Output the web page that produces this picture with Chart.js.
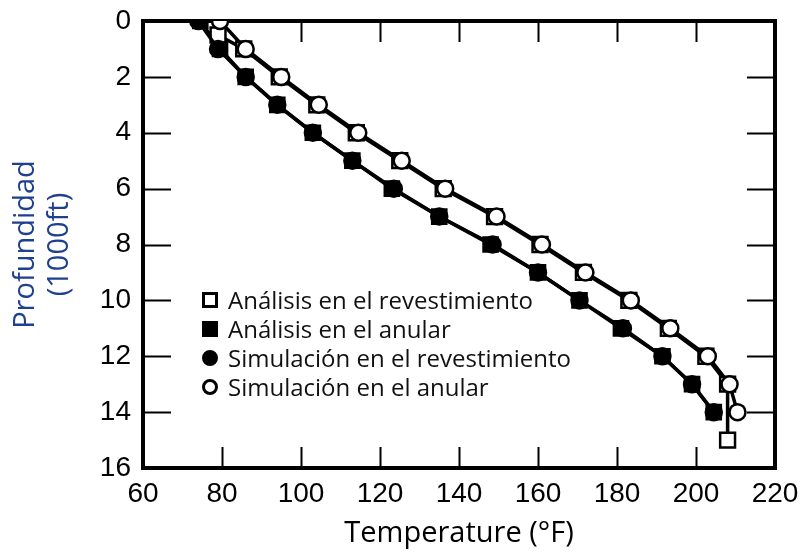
<!DOCTYPE html>
<html><head><meta charset="utf-8">
<script src="https://cdn.jsdelivr.net/npm/chart.js@4/dist/chart.umd.min.js"></script>
<style>
html,body{margin:0;padding:0;background:#fff;}
#wrap{position:relative;width:808px;height:553px;}
#legend{position:absolute;left:202px;top:285px;font-family:'Open Sans',sans-serif;font-size:24px;color:#111;line-height:29px;}
.row{display:flex;align-items:center;height:29px;white-space:nowrap;}
.mk{box-sizing:border-box;width:16px;height:16px;margin-right:10px;border:3px solid #000;background:#fff;}
.fill{background:#000;}
.circ{border-radius:50%;}
</style>
</head><body>
<div id="wrap">
<canvas id="c" width="808" height="553"></canvas>
<div id="legend">
 <div class="row"><span class="mk"></span>Análisis en el revestimiento</div>
 <div class="row"><span class="mk fill"></span>Análisis en el anular</div>
 <div class="row"><span class="mk fill circ"></span>Simulación en el revestimiento</div>
 <div class="row"><span class="mk circ"></span>Simulación en el anular</div>
</div>
</div>
<script>
// Depth (1000 ft) and temperature (°F)
const depthAnalisisRev = [0.5, 1, 2, 3, 4, 5, 6, 7, 8, 9, 10, 11, 12, 13, 15];
const tempAnalisisRev  = [79, 85.5, 94.5, 104, 114, 125, 136, 149, 160.5, 171.5, 183, 193, 202.5, 208, 208];

const depthAnalisisAn  = [0, 1, 2, 3, 4, 5, 6, 7, 8, 9, 10, 11, 12, 13, 14];
const tempAnalisisAn   = [74.5, 79.5, 86, 94, 103, 113, 123, 135, 148, 160, 170.5, 181, 191.5, 199, 204.5];

const depthSimRev      = [0, 1, 2, 3, 4, 5, 6, 7, 8, 9, 10, 11, 12, 13, 14];
const tempSimRev       = [74, 79, 86, 94, 103, 113, 123.5, 135, 148.5, 160, 170.5, 181.5, 191.5, 199, 204.5];

const depthSimAn       = [0, 1, 2, 3, 4, 5, 6, 7, 8, 9, 10, 11, 12, 13, 14];
const tempSimAn        = [79.5, 86, 95, 104.5, 114.5, 125.5, 136.5, 149.5, 161, 172, 183.5, 193.5, 203, 208.5, 210.5];

const xTicks = [60, 80, 100, 120, 140, 160, 180, 200, 220];
const yTicks = [0, 2, 4, 6, 8, 10, 12, 14, 16];

const pts = (t, d) => t.map((v, i) => ({x: v, y: d[i]}));

const frame = {
  id: 'frame',
  beforeDatasetsDraw(chart) {
    const {ctx, chartArea: a, scales: {x, y}} = chart;
    ctx.save();
    ctx.strokeStyle = '#000';
    ctx.lineWidth = 2;
    xTicks.slice(1, -1).forEach(v => {
      const px = Math.round(x.getPixelForValue(v)) + 0.5;
      ctx.beginPath();
      ctx.moveTo(px, a.bottom); ctx.lineTo(px, a.bottom - 21);
      ctx.moveTo(px, a.top); ctx.lineTo(px, a.top + 21);
      ctx.stroke();
    });
    yTicks.slice(1, -1).forEach(v => {
      const py = Math.round(y.getPixelForValue(v)) + 0.5;
      ctx.beginPath();
      ctx.moveTo(a.left, py); ctx.lineTo(a.left + 28, py);
      ctx.moveTo(a.right, py); ctx.lineTo(a.right - 28, py);
      ctx.stroke();
    });
    ctx.lineWidth = 4;
    ctx.strokeRect(a.left, a.top, a.right - a.left, a.bottom - a.top);
    ctx.restore();
  }
};

const common = {showLine: true, borderColor: '#000', borderWidth: 3.5, pointBorderColor: '#000', pointBorderWidth: 2.5, tension: 0};

new Chart(document.getElementById('c'), {
  type: 'scatter',
  data: {
    datasets: [
      Object.assign({label: 'Análisis en el revestimiento', data: pts(tempAnalisisRev, depthAnalisisRev), pointStyle: 'rect', pointRadius: 10.5, pointBackgroundColor: '#fff', order: 2}, common),
      Object.assign({label: 'Análisis en el anular', data: pts(tempAnalisisAn, depthAnalisisAn), pointStyle: 'rect', pointRadius: 10, pointBackgroundColor: '#000', order: 2}, common),
      Object.assign({label: 'Simulación en el revestimiento', data: pts(tempSimRev, depthSimRev), pointStyle: 'circle', pointRadius: 8, pointBackgroundColor: '#000', order: 1}, common),
      Object.assign({label: 'Simulación en el anular', data: pts(tempSimAn, depthSimAn), pointStyle: 'circle', pointRadius: 8, pointBackgroundColor: '#fff', order: 1}, common)
    ]
  },
  options: {
    responsive: false,
    animation: false,
    devicePixelRatio: 1,
    layout: {padding: {top: 21, right: 33, left: 0, bottom: 0}},
    plugins: {legend: {display: false}, tooltip: {enabled: false}},
    scales: {
      x: {
        type: 'linear', min: 60, max: 220,
        afterBuildTicks: s => { s.ticks = xTicks.map(v => ({value: v})); },
        ticks: {color: '#000', font: {family: 'Liberation Sans', size: 28}, padding: 1, maxRotation: 0},
        grid: {display: false}, border: {display: false},
        title: {display: true, text: 'Temperature (°F)', color: '#000', font: {family: 'Open Sans', size: 29}, padding: {top: 0, bottom: 2}},
        afterFit: s => { s.height = 85; }
      },
      y: {
        type: 'linear', min: 0, max: 16, reverse: true,
        afterBuildTicks: s => { s.ticks = yTicks.map(v => ({value: v})); },
        ticks: {color: '#000', font: {family: 'Liberation Sans', size: 28}, padding: 4},
        grid: {display: false}, border: {display: false},
        title: {display: true, text: ['Profundidad', '(1000ft)'], color: '#1f3f8f', font: {family: 'Open Sans', size: 29, lineHeight: 1.2}, padding: {top: 8, bottom: 0}},
        afterFit: s => { s.width = 143; }
      }
    }
  },
  plugins: [frame]
});
</script>
</body></html>
